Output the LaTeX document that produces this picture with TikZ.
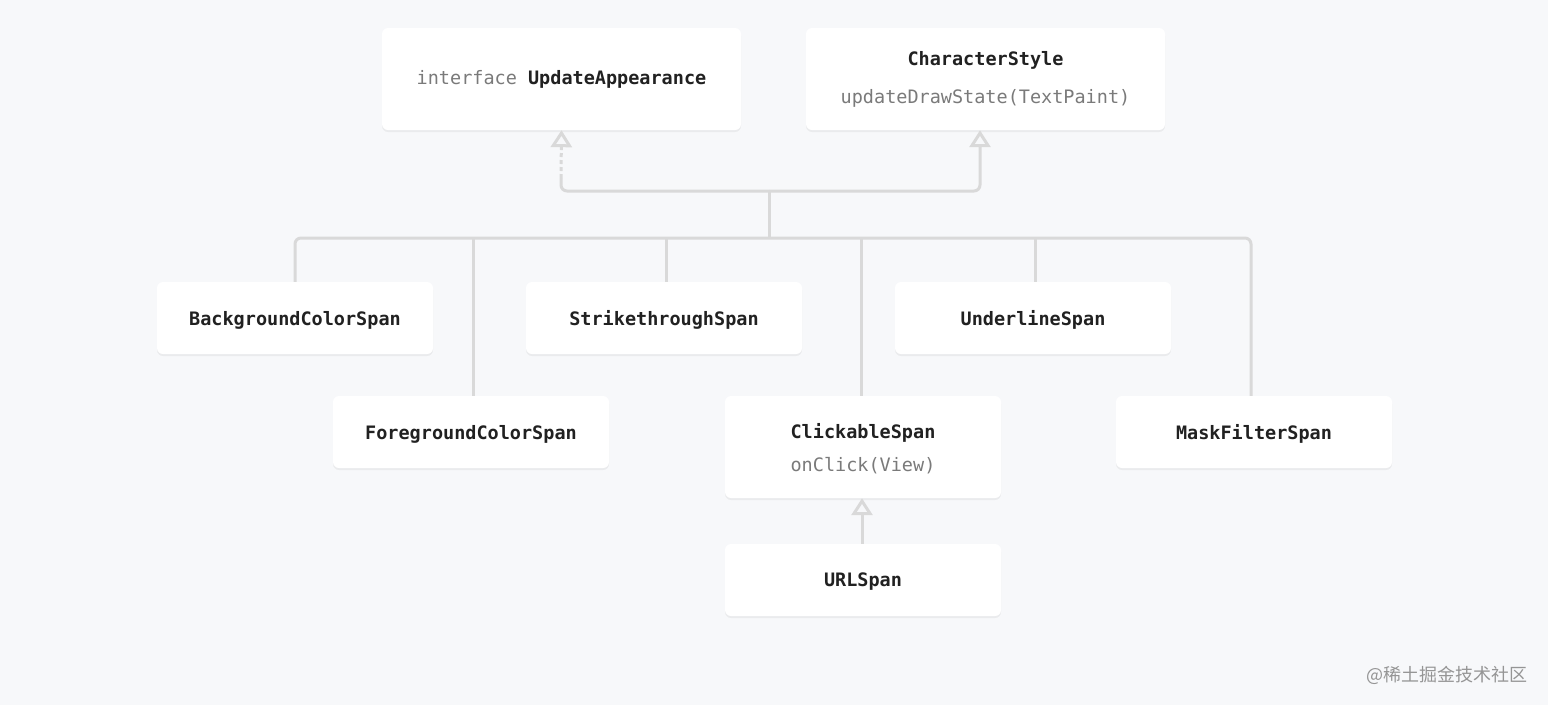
\documentclass[tikz,border=0pt]{standalone}
\usepackage{fontspec}
\setmonofont{DejaVu Sans Mono}
\newfontfamily\cjk{Noto Sans CJK SC}
\usetikzlibrary{arrows.meta,shadows}
\definecolor{bgc}{HTML}{F7F8FA}
\definecolor{linec}{HTML}{D9D9D9}
\definecolor{namec}{HTML}{212121}
\definecolor{subc}{HTML}{7A7A7A}
\tikzset{
  box/.style={rectangle, rounded corners=6pt, fill=white, draw=none,
    minimum width=276pt, minimum height=72pt, inner sep=0pt,
    font=\ttfamily\fontsize{18.5}{22}\selectfont, text=namec, align=center,
    drop shadow={opacity=0.10, shadow xshift=0pt, shadow yshift=-2pt}},
  onebox/.style={box, text depth=0pt},
  bigbox/.style={box, minimum width=359pt, minimum height=102pt},
  conn/.style={draw=linec, line width=3pt, rounded corners=6pt},
  inh/.style={-{Triangle[length=17pt, width=21pt, fill=bgc]}},
}
\begin{document}
\begin{tikzpicture}[x=1pt, y=-1pt]
\fill[bgc] (0,0) rectangle (1548,705);
\useasboundingbox (0,0) rectangle (1548,705);

% top boxes
\node[bigbox] (ua) at (561.5,79) {{\color{subc}\mdseries interface} \bfseries UpdateAppearance};
\node[bigbox] (cs) at (985.5,79) {\bfseries CharacterStyle\\[16pt]{\color{subc}\mdseries updateDrawState(TextPaint)}};

% spans
\node[onebox] (bg) at (295,318) {\bfseries BackgroundColorSpan};
\node[onebox] (st) at (664,318) {\bfseries StrikethroughSpan};
\node[onebox] (ul) at (1033,318) {\bfseries UnderlineSpan};
\node[onebox] (fg) at (471,432) {\bfseries ForegroundColorSpan};
\node[box, minimum height=102pt, text depth=0pt] (cl) at (863,447) {\bfseries ClickableSpan\\[11pt]{\color{subc}\mdseries onClick(View)}};
\node[onebox] (mf) at (1254,432) {\bfseries MaskFilterSpan};
\node[onebox] (url) at (863,580) {\bfseries URLSpan};

% junctions
\coordinate (j1) at (769,191);
\coordinate (j2) at (769,238);
\coordinate (ca) at (561,178);

% to UpdateAppearance (dashed) and CharacterStyle
\draw[conn] (j1) -| (ca);
\draw[conn, dashed, dash pattern=on 4pt off 3pt, inh] (ca) -- (ua.south);
\draw[conn, inh] (j1) -| ([xshift=-5.5pt]cs.south);
\draw[conn] (j1) -- (j2);

% bus
\draw[conn] (bg.north) |- (j2) -| ([xshift=-3pt]mf.north);
\draw[conn] ([xshift=2pt]j2 -| fg.north) -- ([xshift=2pt]fg.north);
\draw[conn] ([xshift=2pt]j2 -| st.north) -- ([xshift=2pt]st.north);
\draw[conn] ([xshift=-2pt]j2 -| cl.north) -- ([xshift=-2pt]cl.north);
\draw[conn] ([xshift=2pt]j2 -| ul.north) -- ([xshift=2pt]ul.north);

% URLSpan -> ClickableSpan
\draw[conn, inh] ([xshift=-1pt]url.north) -- ([xshift=-1pt]cl.south);

% watermark
\node[text=subc!80, font=\cjk\fontsize{18}{20}\selectfont, anchor=east] (wm) at (1531,675) {@稀土掘金技术社区};
\end{tikzpicture}
\end{document}
